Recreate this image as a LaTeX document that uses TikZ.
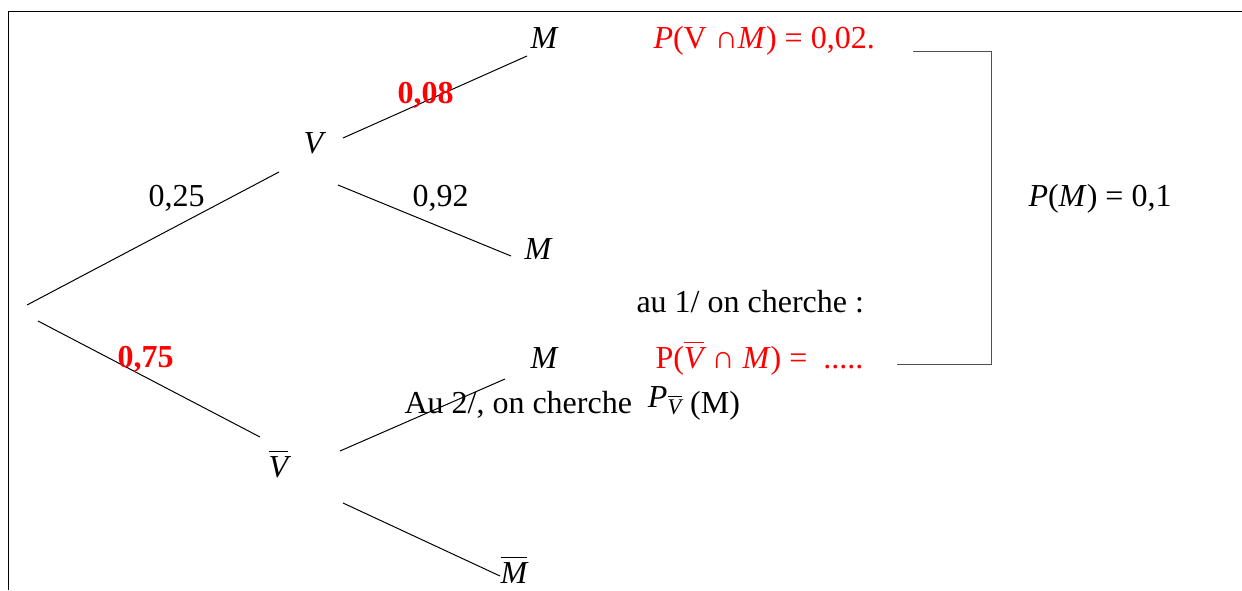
\documentclass[tikz,border=0pt]{standalone}
\usepackage{amsmath}
\usepackage{fontspec}
\setmainfont{Liberation Serif}
\usepackage{xcolor}
\definecolor{ansred}{RGB}{255, 0, 0}
\definecolor{bracketgray}{RGB}{80, 80, 80}
\newcommand{\barit}[1]{$\overline{\text{\itshape #1}}$}
\newcommand{\evt}[1]{\textit{#1}}

\begin{document}
\begin{tikzpicture}[x=0.5pt, y=-0.5pt, line width=0.5pt,
    every node/.style={font=\fontsize{16}{19}\selectfont, inner sep=0pt, anchor=base west},
    prob/.style={},
    given/.style={ansred, font=\fontsize{16}{19}\selectfont\bfseries}]
  \useasboundingbox (0, 0) rectangle (1242, 590);

  % Frame
  \draw (1242, 11) -- (8, 11) -- (8, 590);

  % Tree nodes
  \node (V)    at (303, 153) {\evt{V}};
  \node (Vb)   at (268, 477) {\barit{V}};
  \node (M1)   at (530, 48)  {\evt{M}};
  \node (M2)   at (524, 259) {\evt{M}};
  \node (M3)   at (530, 368) {\evt{M}};
  \node (Mb)   at (500, 583) {\barit{M}};

  % Branch ends
  \coordinate (r1) at (27, 305);   \coordinate (v1) at (279, 172);
  \coordinate (r2) at (38, 321);   \coordinate (w1) at (260, 437);
  \coordinate (a1) at (343, 138);  \coordinate (a2) at (527, 56);
  \coordinate (b1) at (338, 185);  \coordinate (b2) at (511, 256);
  \coordinate (c1) at (340, 451);  \coordinate (c2) at (505, 379);
  \coordinate (d1) at (343, 503);  \coordinate (d2) at (500, 576);

  % Branches
  \draw (r1) -- (v1);
  \draw (r2) -- (w1);
  \draw (a1) -- (a2);
  \draw (b1) -- (b2);
  \draw (c1) -- (c2);
  \draw (d1) -- (d2);

  % Branch weights
  \node[prob]  (p25) at (148, 206) {0,25};
  \node[prob]  (p92) at (412, 206) {0,92};
  \node[given] (p08) at (397, 103) {0,08};
  \node[given] (p75) at (117, 367) {0,75};

  % Intersections
  \node[ansred] (inter1) at (653, 48)  {\evt{P}(V ∩\evt{M}) = 0,02.};
  \node[ansred] (inter2) at (655, 368) {P(\barit{V} ∩ \evt{M}) =\ \ .....};
  \node (q1) at (636, 312) {au 1/ on cherche :};
  \node (q2) at (404, 413) {Au 2/, on cherche\ \ \raisebox{3pt}{$\text{\itshape P}_{\overline{\text{\itshape V}}}$} (M)};

  % Bracket for total probability
  \coordinate (k1) at (913, 51);  \coordinate (k2) at (991, 51);
  \coordinate (k3) at (991, 364); \coordinate (k4) at (897, 364);
  \draw[bracketgray] (k1) -- (k2) -- (k3) -- (k4);
  \node (total) at (1028, 206) {\evt{P}(\evt{M}) = 0,1};
\end{tikzpicture}
\end{document}
